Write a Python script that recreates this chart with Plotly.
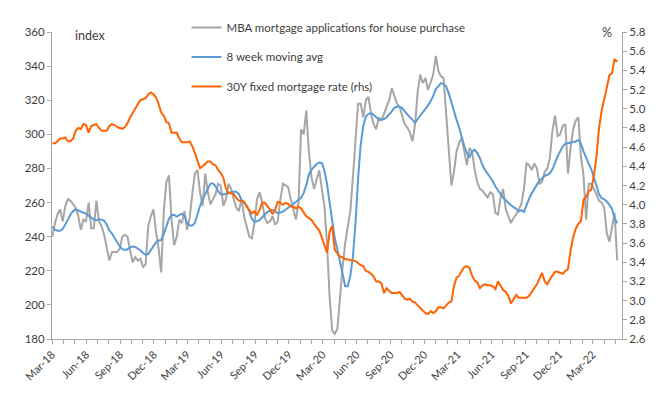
import pandas as pd
import plotly.graph_objects as go

# weekly observations, first week and count
start_date = "2018-03-02"

mba_purchase = [
    240,248,253,256,249,258,262,261,259,257,252,244,250,249,260,245,245,261,249,246,
    241,233,226,231,231,231,233,240,241,240,232,225,228,226,227,222,224,
    246,252,256,243,233,219,255,272,276,250,235,240,250,248,255,244,251,265,277,279,
    266,258,277,266,259,262,265,271,270,258,262,271,268,262,257,255,262,252,246,240,
    239,248,262,266,260,251,248,249,252,247,249,262,271,270,269,262,255,250,260,
    303,300,314,290,275,268,273,279,268,258,236,205,185,183,186,205,222,236,245,255,
    275,298,318,318,310,320,322,312,306,303,310,308,312,317,320,327,322,318,316,311,
    306,304,301,296,306,325,335,330,333,326,330,335,346,337,334,333,
    312,290,270,278,290,295,298,290,282,292,290,279,272,268,267,265,263,266,265,254,
    253,263,268,256,252,248,251,253,256,259,268,283,282,279,283,280,271,272,278,280,
    286,302,311,299,300,305,306,277,292,303,308,310,287,276,250,271,271,268,265,261,
    260,257,242,237,246,254,226,
]

moving_avg_8w = [
    246,244,243.5,243.5,244.5,247,250,253,255,256,255.3,254.3,254,253.5,252.5,251.2,
    250,249.6,250.2,250,249.3,247,243.6,241.8,239,236.7,234.4,232.7,232.2,232.6,233.8,
    234.2,234,233.2,232,230.4,229.5,
    229.8,232,234.5,236.7,237.8,238,241.5,246,250.5,252.7,252.8,251.8,252.6,253.5,252,
    248,246.5,246.6,248,253.5,258,262,265,268.8,271,271.3,269.5,266.7,264.8,264.7,265,
    265.6,266,266.4,266.4,265,261.5,260,258.2,255,250.5,248.8,249,249.8,251.5,252.8,
    254.5,255.2,255.7,254.8,253.8,254.2,254.7,255.8,256.9,258.4,259.3,260.2,261.2,
    262.8,265.5,270.2,276.5,279.2,281,282.6,283.5,283.2,
    278.8,271,260,249,239,232.6,225,217.5,211,211,217,228.5,248,274,294,305,310.5,312,
    312.5,311.5,310,308.6,308.5,309,310,311.5,313.5,315.5,316.3,316.2,315.4,313.5,311.5,
    310,308.5,306.8,309,311,313,314.4,317,319.5,322.5,326.5,328.5,330,329.5,328,324,
    318.5,313,308.5,304,298,293,289,286.5,290,291,289,286,282,279,277,275,272.5,269.4,
    267,265,262.8,261.4,259.8,258.4,257.3,256.3,254.7,255.5,254.5,259,262.3,265.3,
    268.3,270.5,272.8,274.3,275.6,276.3,277.1,279.5,283.5,287,290,293,294.5,294.8,
    294.8,295.2,295.8,296.7,294.7,290,285.8,282.7,279.5,275.3,270,264.9,262.6,261.9,
    260.6,258.6,256.3,251,247.9,
]

rate_30y = [
    4.64,4.64,4.66,4.69,4.69,4.70,4.66,4.66,4.69,4.77,4.80,4.79,4.84,4.83,4.75,4.82,
    4.83,4.84,4.80,4.77,4.77,4.77,4.82,4.84,4.83,4.81,4.80,4.79,4.81,4.85,4.91,4.96,
    5.00,5.05,5.09,5.10,5.11,5.15,5.17,5.15,5.12,5.05,4.96,4.93,4.86,4.85,4.75,4.75,
    4.75,4.69,4.65,4.65,4.65,4.66,4.61,4.54,4.47,4.38,4.40,4.43,4.45,4.45,4.42,4.41,
    4.36,4.33,
    4.28,4.17,4.12,4.12,4.11,4.07,4.04,4.04,4.03,3.98,3.95,3.91,3.93,3.89,3.95,4.02,
    4.02,3.99,3.95,3.90,3.95,4.03,4.02,4.00,4.02,4.01,3.98,3.98,3.96,3.98,3.96,3.92,
    3.88,3.86,
    3.84,3.80,3.76,3.73,3.66,3.58,3.50,3.72,3.78,3.53,3.50,3.46,3.45,3.43,3.43,3.42,
    3.42,3.41,3.39,3.37,3.36,3.31,3.30,3.28,3.25,3.20,3.20,3.18,3.08,3.13,3.10,3.08,
    3.08,3.08,3.09,3.05,3.02,3.01,3.02,2.99,2.98,2.95,2.92,2.90,2.87,2.86,2.89,2.87,
    2.89,2.93,2.93,2.92,2.95,2.98,2.99,3.15,3.24,3.26,3.31,3.35,3.36,3.34,3.26,3.21,
    3.19,3.13,3.16,3.17,3.16,3.16,3.15,3.12,3.20,3.16,3.11,3.09,3.05,2.97,3.01,3.06,
    3.03,3.03,3.03,3.03,3.05,3.09,3.13,3.17,3.23,3.29,3.20,3.17,3.22,3.26,3.30,3.30,
    3.29,3.28,3.31,3.33,3.52,3.66,3.75,3.80,3.83,4.05,4.08,4.14,4.16,4.30,4.50,4.80,
    4.98,5.12,5.22,5.35,5.37,5.52,5.49,
]

series_names = [
    "MBA mortgage applications for house purchase",
    "8 week moving avg",
    "30Y fixed mortgage rate (rhs)",
]

dates = pd.date_range(start_date, periods=len(mba_purchase), freq="7D")

FONT = "Lato"
TXT = "#404040"
AXC = "#a6a6a6"

fig = go.Figure()
fig.add_trace(go.Scatter(x=dates, y=mba_purchase, name=series_names[0], mode="lines",
                         line=dict(color="#a6a6a6", width=2), legendgroup="a"))
fig.add_trace(go.Scatter(x=dates, y=moving_avg_8w, name=series_names[1], mode="lines",
                         line=dict(color="#5b9bd5", width=2), legendgroup="b"))
fig.add_trace(go.Scatter(x=dates, y=rate_30y, name=series_names[2], mode="lines",
                         line=dict(color="#ff6200", width=2), yaxis="y2", legendgroup="c"))

fig.update_layout(
    width=661, height=397,
    margin=dict(l=52, r=39, t=32, b=58, autoexpand=False),
    paper_bgcolor="white", plot_bgcolor="white",
    font=dict(family=FONT, size=11.5, color=TXT),
    showlegend=True,
    legend=dict(x=0.236, y=1.062, xanchor="left", yanchor="top",
                bgcolor="rgba(0,0,0,0)", tracegroupgap=10.5,
                font=dict(family=FONT, size=11.5, color=TXT)),
    xaxis=dict(
        type="date", range=["2018-03-01", "2022-05-19"],
        tick0="2018-03-01", dtick="M3", tickformat="%b-%y", tickangle=-45,
        ticks="outside", ticklen=4, tickcolor=AXC,
        showline=True, linecolor=AXC, linewidth=1, showgrid=False, zeroline=False,
        minor=dict(dtick="M1", ticks="outside", ticklen=4, tickcolor=AXC, showgrid=False),
        tickfont=dict(family=FONT, size=11, color=TXT),
    ),
    yaxis=dict(
        range=[180, 360], dtick=20, ticks="outside", ticklen=4, tickcolor=AXC,
        showline=True, linecolor=AXC, linewidth=1, showgrid=False, zeroline=False,
        tickfont=dict(family=FONT, size=11.5, color=TXT),
    ),
    yaxis2=dict(
        range=[2.6, 5.8], dtick=0.2, tickformat=".1f", overlaying="y", side="right",
        ticks="outside", ticklen=4, tickcolor=AXC,
        showline=True, linecolor=AXC, linewidth=1, showgrid=False, zeroline=False,
        tickfont=dict(family=FONT, size=11.5, color=TXT),
    ),
    annotations=[
        dict(text="index", xref="paper", yref="paper", x=0.037, y=0.99,
             xanchor="left", yanchor="middle", showarrow=False,
             font=dict(family=FONT, size=12.5, color=TXT)),
        dict(text="%", xref="paper", yref="paper", x=0.986, y=0.997,
             xanchor="right", yanchor="middle", showarrow=False,
             font=dict(family=FONT, size=12.5, color=TXT)),
    ],
)

fig.write_html("out.html", config={"displayModeBar": False},
               post_script="document.body.style.margin='0';")
